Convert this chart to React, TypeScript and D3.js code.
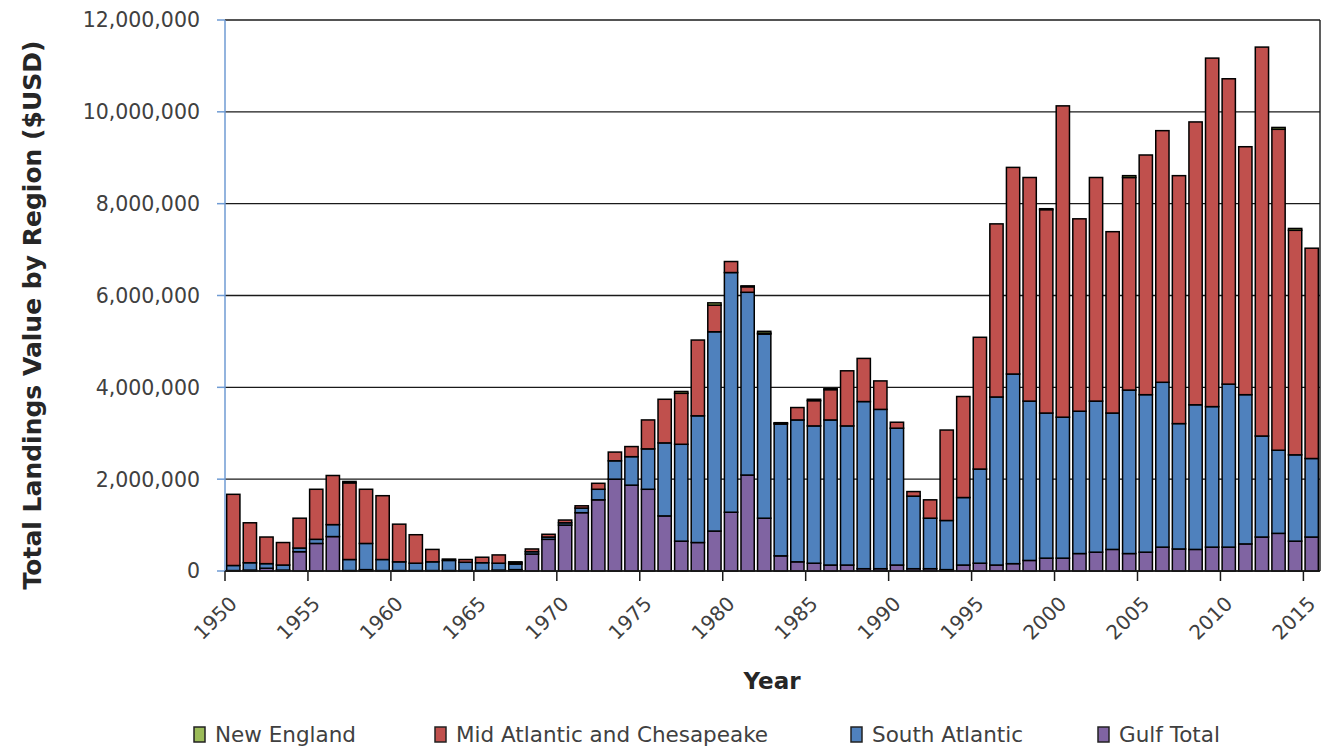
import React from "react";
import * as d3 from "d3";

// Values in millions of USD
const years: number[] = d3.range(1950, 2016);
const seriesNames = ["New England", "Mid Atlantic and Chesapeake", "South Atlantic", "Gulf Total"];
const seriesColors = ["#9BBB59", "#C0504D", "#4F81BD", "#8064A2"];

const gulfTotal = [0.01,0.02,0.06,0.02,0.42,0.6,0.75,0.01,0.03,0.01, 0.01,0.01,0.01,0.01,0.01,0.01,0.02,0.03,0.37,0.69, 1.0,1.27,1.55,2.0,1.87,1.78,1.2,0.65,0.62,0.87, 1.28,2.09,1.15,0.33,0.2,0.17,0.13,0.13,0.05,0.05, 0.13,0.05,0.05,0.03,0.13,0.17,0.13,0.16,0.23,0.28, 0.28,0.38,0.41,0.47,0.38,0.41,0.52,0.48,0.47,0.52, 0.52,0.59,0.74,0.82,0.65,0.74];
const southAtlantic = [0.11,0.16,0.1,0.11,0.08,0.09,0.26,0.24,0.57,0.24, 0.19,0.16,0.19,0.22,0.18,0.17,0.15,0.12,0.05,0.05, 0.05,0.1,0.23,0.4,0.62,0.88,1.59,2.11,2.76,4.34, 5.22,3.98,4.01,2.87,3.09,2.99,3.16,3.03,3.64,3.47, 2.98,1.58,1.1,1.07,1.47,2.05,3.66,4.13,3.47,3.16, 3.07,3.10,3.29,2.97,3.56,3.43,3.59,2.73,3.15,3.06, 3.55,3.25,2.2,1.81,1.88,1.71];
const midAtlantic = [1.55,0.87,0.58,0.49,0.65,1.09,1.07,1.67,1.18,1.39, 0.82,0.62,0.27,0.03,0.06,0.12,0.18,0.03,0.06,0.06, 0.06,0.05,0.13,0.19,0.22,0.63,0.95,1.11,1.65,0.58, 0.24,0.12,0.02,0.02,0.27,0.55,0.66,1.2,0.94,0.62, 0.13,0.1,0.4,1.97,2.2,2.87,3.77,4.5,4.87,4.43, 6.78,4.19,4.87,3.95,4.63,5.22,5.48,5.4,6.16,7.59, 6.65,5.4,8.47,6.99,4.89,4.58];
const newEngland = [0,0,0,0,0,0,0,0.03,0,0, 0,0,0,0,0,0,0,0.02,0,0, 0,0,0,0,0,0,0,0.04,0,0.05, 0,0.02,0.04,0.01,0,0.03,0.02,0,0,0, 0,0,0,0,0,0,0,0,0,0.02, 0,0,0,0,0.04,0,0,0,0,0, 0,0,0,0.04,0.04,0];
const yTicks = [0, 2, 4, 6, 8, 10, 12];
const xTickYears = [1950,1955,1960,1965,1970,1975,1980,1985,1990,1995,2000,2005,2010,2015];

const keys = ["gulf", "south", "mid", "ne"];
const keyColor: Record<string, string> = { gulf: "#8064A2", south: "#4F81BD", mid: "#C0504D", ne: "#9BBB59" };

export default function App() {
  const W = 1323, H = 748;
  const left = 225, right = 1320, top = 20, bottom = 571;
  const table = years.map((y, i) => ({ year: y, gulf: gulfTotal[i], south: southAtlantic[i], mid: midAtlantic[i], ne: newEngland[i] }));
  const stack = d3.stack<any>().keys(keys)(table);
  const x = d3.scaleBand<number>().domain(years).range([left, right]).paddingInner(0.2).paddingOuter(0.1);
  const y = d3.scaleLinear().domain([0, 12]).range([bottom, top]);
  const fmt = d3.format(",");
  const step = x.step();
  const font = "'DejaVu Sans', sans-serif";

  return (
    <svg width={W} height={H} style={{ position: "absolute", left: 0, top: 0, background: "#fff" }}>
      {/* gridlines */}
      {yTicks.map((t) => (
        <line key={"g" + t} x1={left} x2={right} y1={y(t)} y2={y(t)} stroke="#1a1a1a" strokeWidth={1.4} />
      ))}
      <line x1={right} x2={right} y1={top} y2={bottom} stroke="#1a1a1a" strokeWidth={1.4} />
      {/* bars */}
      {stack.map((s) => (
        <g key={s.key} fill={keyColor[s.key as string]}>
          {s.map((d, i) => {
            const h = y(d[0]) - y(d[1]);
            if (h <= 0) return null;
            return (
              <rect key={i} x={x(years[i])!} y={y(d[1])} width={x.bandwidth()} height={h} stroke="#000" strokeWidth={1.5} />
            );
          })}
        </g>
      ))}
      {/* y axis */}
      <line x1={left} x2={left} y1={top} y2={bottom} stroke="#6F9BD3" strokeWidth={1.5} />
      {yTicks.map((t) => (
        <g key={"yt" + t}>
          <line x1={left - 8} x2={left} y1={y(t)} y2={y(t)} stroke="#6F9BD3" strokeWidth={1.5} />
          <text x={200} y={y(t)} dy="0.36em" textAnchor="end" fontFamily={font} fontSize={20.5} fill="#404040">
            {fmt(t * 1e6)}
          </text>
        </g>
      ))}
      {/* x axis ticks */}
      {xTickYears.map((yr) => {
        const i = years.indexOf(yr);
        const tx = left + i * step;
        const cx = x(yr)! + x.bandwidth() / 2 + 5;
        return (
          <g key={"xt" + yr}>
            <line x1={tx} x2={tx} y1={bottom} y2={bottom + 10} stroke="#1a1a1a" strokeWidth={1.5} />
            <text transform={`translate(${cx},${605}) rotate(-45)`} textAnchor="end" fontFamily={font} fontSize={20} fill="#404040">
              {yr}
            </text>
          </g>
        );
      })}
      <line x1={left} x2={right} y1={bottom} y2={bottom} stroke="#1a1a1a" strokeWidth={1.5} />
      {/* titles */}
      <text transform={`translate(41,${315}) rotate(-90)`} textAnchor="middle" fontFamily={font} fontWeight="bold" fontSize={25} fill="#262626">
        Total Landings Value by Region  ($USD)
      </text>
      <text x={772} y={689} textAnchor="middle" fontFamily={font} fontWeight="bold" fontSize={23} fill="#262626">
        Year
      </text>
      {/* legend */}
      {seriesNames.map((n, i) => {
        const lx = [194, 435, 851, 1098][i];
        return (
          <g key={n}>
            <rect x={lx} y={727} width={11} height={15} fill={seriesColors[i]} stroke="#222" strokeWidth={1.5} />
            <text x={lx + 21} y={742} fontFamily={font} fontSize={21.5} fill="#404040">{n}</text>
          </g>
        );
      })}
    </svg>
  );
}
